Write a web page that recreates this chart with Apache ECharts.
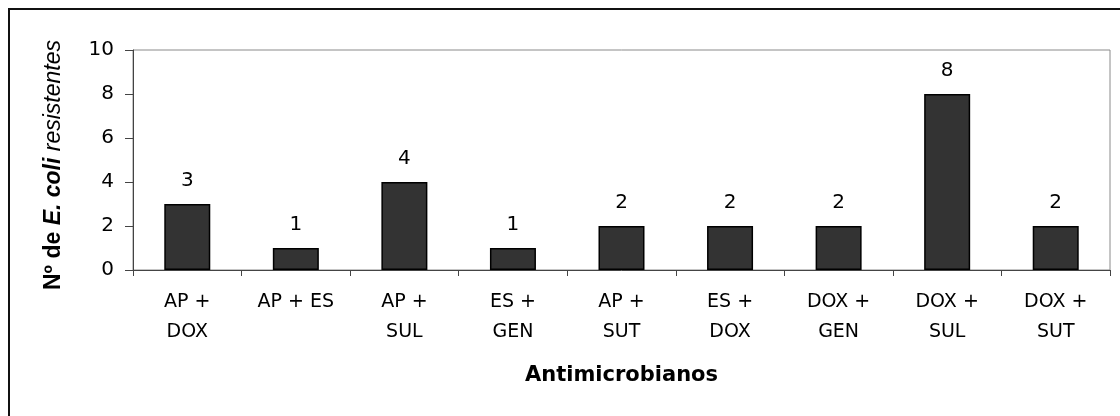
<!DOCTYPE html>
<html>
<head>
<meta charset="utf-8">
<script src="https://cdn.jsdelivr.net/npm/echarts@6/dist/echarts.min.js"></script>
<style>
html,body{margin:0;padding:0;background:#fff;}
#chart{width:1120px;height:416px;}
</style>
</head>
<body>
<div id="chart"></div>
<script>
const categories = ['AP +\nDOX', 'AP + ES', 'AP +\nSUL', 'ES +\nGEN', 'AP +\nSUT', 'ES +\nDOX', 'DOX +\nGEN', 'DOX +\nSUL', 'DOX +\nSUT'];
const values = [3, 1, 4, 1, 2, 2, 2, 8, 2];
const yTicks = [0, 2, 4, 6, 8, 10];
const xTitle = 'Antimicrobianos';
const yTitleParts = ['Nº de ', 'E. coli', ' resistentes'];

const FONT = '"DejaVu Sans", sans-serif';
const FONT2 = '"Liberation Sans", Arial, sans-serif';
const chart = echarts.init(document.getElementById('chart'), null, {renderer: 'canvas'});
chart.setOption({
  backgroundColor: '#fff',
  animation: false,
  textStyle: {fontFamily: FONT, color: '#000'},
  graphic: [{
    type: 'rect',
    shape: {x: 9, y: 9, width: 1300, height: 1300},
    style: {fill: null, stroke: '#111', lineWidth: 2},
    silent: true
  }],
  grid: {
    left: 133, right: 10, top: 50, bottom: 146,
    show: true, borderColor: '#8a8a8a', borderWidth: 1, backgroundColor: '#fff'
  },
  xAxis: {
    type: 'category',
    data: categories,
    axisLine: {lineStyle: {color: '#444', width: 1}},
    axisTick: {show: true, length: 6, lineStyle: {color: '#444'}},
    axisLabel: {fontFamily: FONT, fontSize: 19, color: '#000', lineHeight: 30, margin: 17, interval: 0},
    name: xTitle,
    nameLocation: 'middle',
    nameGap: 95,
    nameTextStyle: {fontFamily: FONT, fontSize: 21, fontWeight: 'bold', color: '#000'}
  },
  yAxis: {
    type: 'value',
    min: yTicks[0], max: yTicks[yTicks.length - 1], interval: yTicks[1] - yTicks[0],
    axisLine: {show: true, lineStyle: {color: '#444', width: 1}},
    axisTick: {show: true, length: 8, lineStyle: {color: '#444'}},
    splitLine: {show: false},
    axisLabel: {fontFamily: FONT, fontSize: 20, color: '#000', margin: 19},
    name: '{b|' + yTitleParts[0] + '}{bi|' + yTitleParts[1] + '}{i|' + yTitleParts[2] + '}',
    nameLocation: 'middle',
    nameRotate: 90,
    nameGap: 68,
    nameTextStyle: {
      fontFamily: FONT2, fontSize: 23, color: '#000',
      padding: [0, 10, 0, 0],
      rich: {
        b: {fontFamily: FONT2, fontSize: 23, fontWeight: 'bold', color: '#000'},
        bi: {fontFamily: FONT2, fontSize: 23, fontWeight: 'bold', fontStyle: 'italic', color: '#000'},
        i: {fontFamily: FONT2, fontSize: 23, fontStyle: 'italic', color: '#000'}
      }
    }
  },
  series: [{
    type: 'bar',
    data: values,
    barWidth: 46,
    itemStyle: {color: '#333333', borderColor: '#000', borderWidth: 1.5},
    label: {show: true, position: 'top', distance: 13, fontFamily: FONT, fontSize: 20, color: '#000'}
  }]
});
</script>
</body>
</html>
